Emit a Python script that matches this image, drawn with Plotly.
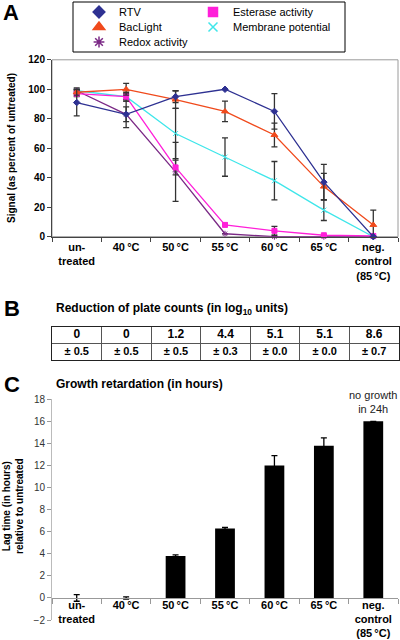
import plotly.graph_objects as go

# ---------------- data ----------------
categories = ["un-<br>treated", "40\u2009°C", "50\u2009°C", "55\u2009°C", "60\u2009°C", "65\u2009°C",
              "neg.<br>control<br>(85\u2009°C)"]

rtv = [91, 83, 95, 100, 85, 37, 0]
rtv_err = [9, 9, 4, 0, 12, 12, 0]
baclight = [98, 100, 93, 85, 69, 34, 8]
baclight_err = [2, 4, 6, 7, 8, 9, 10]
redox = [99, 83, 44, 2, 0, 0, 0]
redox_err = [2, 5, 20, 0, 0, 0, 0]
esterase = [97, 95, 47, 8, 4, 1, 0.5]
esterase_err = [2, 2, 5, 1, 3, 0, 0]
membrane = [99, 95, 70, 54, 38, 18, 0]
membrane_err = [1, 3, 17, 13, 13, 7, 0]

plate_reduction = [0, 0, 1.2, 4.4, 5.1, 5.1, 8.6]
plate_reduction_err = [0.5, 0.5, 0.5, 0.3, 0.0, 0.0, 0.7]
table_rows = ["err", "val"]

lag_time = [0, 0, 3.8, 6.3, 12.0, 13.8, 16.0]
lag_time_err = [0.3, 0.1, 0.1, 0.1, 0.9, 0.7, 0]

FONT = "Liberation Sans, Arial, Helvetica, sans-serif"
W, H = 400, 640

def px(xp):
    return xp / W

def py(yp):
    return 1 - yp / H

fig = go.Figure()

# name, values, errors, colour, symbol, size, legend id, legend x(px), row y(px)
series = [
    ("RTV", rtv, rtv_err, "#2E3192", "diamond", 7, "legend", 79, 12),
    ("BacLight", baclight, baclight_err, "#F04A1C", "triangle-up", 8, "legend2", 79, 27),
    ("Redox activity", redox, redox_err, "#7B2A86", "asterisk-open", 7, "legend3", 79, 42),
    ("Esterase activity", esterase, esterase_err, "#FF1FD9", "square", 7, "legend4", 193, 12),
    ("Membrane potential", membrane, membrane_err, "#3FE6EA", "x-thin-open", 7, "legend5", 193, 27),
]

draw_order = [4, 2, 3, 1, 0]
for i in draw_order:
    name, vals, errs, col, sym, sz, lg, lx, ly = series[i]
    fig.add_trace(go.Scatter(
        x=categories, y=vals, mode="lines+markers", name=name, showlegend=False,
        line=dict(color=col, width=1.3),
        marker=dict(symbol=sym, size=sz - 2, color=col, line=dict(color=col, width=1)),
        error_y=dict(type="data", array=errs, visible=True, color="#333333",
                     thickness=1.3, width=3),
        xaxis="x", yaxis="y", cliponaxis=False,
    ))

# legend entries (markers only), one legend per entry for exact placement
legend_layouts = {}
for name, vals, errs, col, sym, sz, lg, lx, ly in series:
    fig.add_trace(go.Scatter(
        x=[None], y=[None], mode="markers", name=name, showlegend=True, legend=lg,
        marker=dict(symbol=sym, size=sz + 2, color=col, line=dict(color=col, width=1.5)),
        xaxis="x", yaxis="y",
    ))
    legend_layouts[lg] = dict(
        x=px(lx), y=py(ly), xanchor="left", yanchor="middle",
        font=dict(family=FONT, size=11, color="black"),
        borderwidth=0, bgcolor="rgba(0,0,0,0)", itemclick=False,
    )

# ---------------- Panel B table (category grid) ----------------
fig.add_trace(go.Scatter(
    x=categories, y=[table_rows[1]] * len(categories), mode="text",
    text=[f"<b>{v:g}</b>" for v in plate_reduction],
    textfont=dict(family=FONT, size=12, color="black"), textposition="middle center",
    showlegend=False, hoverinfo="skip", xaxis="x3", yaxis="y3",
))
fig.add_trace(go.Scatter(
    x=categories, y=[table_rows[0]] * len(categories), mode="text",
    text=[f"<b>± {e:.1f}</b>" for e in plate_reduction_err],
    textfont=dict(family=FONT, size=11, color="black"), textposition="middle center",
    showlegend=False, hoverinfo="skip", xaxis="x3", yaxis="y3",
))

# ---------------- Panel C bars ----------------
fig.add_trace(go.Bar(
    x=categories, y=lag_time, width=0.4, marker=dict(color="black", line=dict(width=0)),
    error_y=dict(type="data", array=lag_time_err, visible=True, color="black",
                 thickness=1.3, width=3),
    showlegend=False, xaxis="x2", yaxis="y2",
))

yA0, yA1 = py(236.7), py(59.8)
yC0, yC1 = py(620.0), py(399.3)

fig.update_layout(
    width=W, height=H, margin=dict(l=0, r=0, t=0, b=0, autoexpand=False),
    paper_bgcolor="white", plot_bgcolor="white",
    font=dict(family=FONT, color="black"),
    showlegend=True, hovermode=False,
    xaxis=dict(
        domain=[px(52), px(398)], anchor="y", type="category", range=[-0.5, 6.5],
        showline=True, linecolor="#444", linewidth=1, ticks="outside", tickson="boundaries",
        ticklen=4, tickcolor="#444", showgrid=False, tickangle=0, automargin=False,
        tickfont=dict(family=FONT, size=11, color="black", weight="bold"),
    ),
    yaxis=dict(
        domain=[yA0, yA1], anchor="x", range=[0, 120], dtick=20, automargin=False,
        showline=True, linecolor="#444", linewidth=1, ticks="outside", ticklen=4,
        tickcolor="#444", showgrid=False, zeroline=False,
        tickfont=dict(family=FONT, size=10, color="black", weight="bold"),
    ),
    xaxis2=dict(
        domain=[px(52), px(398)], anchor="free", position=py(598.3), type="category",
        range=[-0.5, 6.5], showline=True, linecolor="#999", linewidth=1, ticks="outside",
        tickson="boundaries", ticklen=5, tickcolor="#999", showgrid=False, tickangle=0,
        automargin=False, ticklabelstandoff=-4,
        tickfont=dict(family=FONT, size=11, color="black", weight="bold"),
    ),
    yaxis2=dict(
        domain=[yC0, yC1], anchor="x2", range=[-2, 18], dtick=2, automargin=False,
        showline=True, linecolor="#bbb", linewidth=1, ticks="outside", ticklen=4,
        tickcolor="#999", showgrid=False, zeroline=False,
        tickfont=dict(family=FONT, size=10, color="#333"),
    ),
    xaxis3=dict(
        domain=[px(52), px(399)], anchor="y3", type="category", range=[-0.5, 6.5],
        showline=True, mirror=True, linecolor="#222", linewidth=1.2, automargin=False,
        showgrid=True, gridcolor="#555", gridwidth=1, tickson="boundaries",
        ticks="", showticklabels=False, zeroline=False, fixedrange=True,
    ),
    yaxis3=dict(
        domain=[py(360), py(327)], anchor="x3", type="category", automargin=False,
        categoryorder="array", categoryarray=table_rows, range=[-0.5, 1.5],
        showline=True, mirror=True, linecolor="#222", linewidth=1.2,
        showgrid=True, gridcolor="#555", gridwidth=1, tickson="boundaries",
        ticks="", showticklabels=False, zeroline=False, fixedrange=True,
    ),
    shapes=[
        dict(type="rect", xref="x domain", yref="y domain", x0=0, x1=1, y0=0, y1=1,
             line=dict(color="#9a9a9a", width=1), layer="below"),
        dict(type="rect", xref="paper", yref="paper", x0=px(73), x1=px(345),
             y0=py(52), y1=py(2), line=dict(color="black", width=1), layer="below"),
    ],
    annotations=[
        dict(text="<b>A</b>", x=px(1), y=py(13), xref="paper", yref="paper",
             xanchor="left", yanchor="middle", showarrow=False, font=dict(size=22)),
        dict(text="<b>B</b>", x=px(2), y=py(308), xref="paper", yref="paper",
             xanchor="left", yanchor="middle", showarrow=False, font=dict(size=22)),
        dict(text="<b>C</b>", x=px(2), y=py(384), xref="paper", yref="paper",
             xanchor="left", yanchor="middle", showarrow=False, font=dict(size=22)),
        dict(text="<b>Signal (as percent of untreated)</b>", x=px(12), y=py(148),
             xref="paper", yref="paper", textangle=-90, showarrow=False,
             xanchor="center", yanchor="middle", font=dict(size=10)),
        dict(text="<b>Reduction of plate counts (in log<sub>10</sub> units)</b>",
             x=px(54), y=py(309), xref="paper", yref="paper", xanchor="left",
             yanchor="middle", showarrow=False, font=dict(size=12)),
        dict(text="<b>Growth retardation (in hours)</b>", x=px(54), y=py(384),
             xref="paper", yref="paper", xanchor="left", yanchor="middle",
             showarrow=False, font=dict(size=12)),
        dict(text="<b>Lag time (in hours)<br>relative to untreated</b>", x=px(13),
             y=py(506), xref="paper", yref="paper", textangle=-90, showarrow=False,
             xanchor="center", yanchor="middle", font=dict(size=10)),
        dict(text="no growth<br>in 24h", x=categories[-1], y=lag_time[-1], xref="x2",
             yref="y2", yanchor="bottom", xanchor="center", yshift=4, showarrow=False,
             font=dict(size=11, color="#222")),
    ],
    **legend_layouts,
)

fig.write_html(
    "out.html",
    config={"displayModeBar": False, "staticPlot": True},
    post_script="document.body.style.margin='0';document.body.style.padding='0';"
                "document.body.style.overflow='hidden';",
)
